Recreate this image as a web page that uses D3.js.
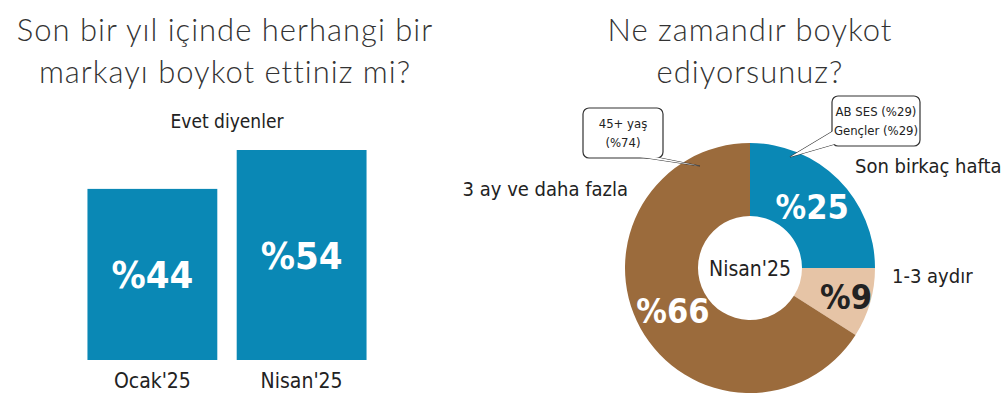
<!DOCTYPE html>
<html><head><meta charset="utf-8">
<script src="https://cdn.jsdelivr.net/npm/d3@7"></script>
<style>body{margin:0;background:#fff}svg{font-family:"DejaVu Sans Condensed","DejaVu Sans",sans-serif}</style>
</head><body><svg width="1004" height="411"></svg>
<script>
// bar data
var barCats = ["Ocak'25", "Nisan'25"];
var barVals = [44, 54];
// donut data
var sliceNames = ["Son birkaç hafta", "1-3 aydır", "3 ay ve daha fazla"];
var sliceVals = [25, 9, 66];
var sliceColors = ["#0a88b5", "#e6c4a6", "#9b6b3c"];

var svg = d3.select("svg");
var title = "Lato, 'Open Sans', sans-serif";

// titles
svg.append("text").attr("x", 225).attr("y", 41).attr("text-anchor", "middle").attr("font-family", title)
  .attr("font-weight", 300).attr("font-size", 31).attr("fill", "#333").attr("letter-spacing", 1).text("Son bir yıl içinde herhangi bir");
svg.append("text").attr("x", 225).attr("y", 83).attr("text-anchor", "middle").attr("font-family", title)
  .attr("font-weight", 300).attr("font-size", 31).attr("fill", "#333").attr("letter-spacing", 1).text("markayı boykot ettiniz mi?");
svg.append("text").attr("x", 750).attr("y", 41).attr("text-anchor", "middle").attr("font-family", title)
  .attr("font-weight", 300).attr("font-size", 31).attr("fill", "#333").attr("letter-spacing", 1).text("Ne zamandır boykot");
svg.append("text").attr("x", 750).attr("y", 83).attr("text-anchor", "middle").attr("font-family", title)
  .attr("font-weight", 300).attr("font-size", 31).attr("fill", "#333").attr("letter-spacing", 1).text("ediyorsunuz?");

svg.append("text").attr("x", 227).attr("y", 128).attr("text-anchor", "middle").attr("font-size", 19)
  .attr("fill", "#222").text("Evet diyenler");

// bars
var x = d3.scaleBand().domain(barCats).range([80, 374]).paddingInner(0.13).paddingOuter(0.05);
var y = d3.scaleLinear().domain([0, 54]).range([360, 150]);
var bars = svg.append("g").selectAll("g").data(barCats).enter().append("g");
bars.append("rect").attr("x", function(d){return x(d);}).attr("width", x.bandwidth())
  .attr("y", function(d,i){return y(barVals[i]);}).attr("height", function(d,i){return 360 - y(barVals[i]);})
  .attr("fill", "#0a88b5");
bars.append("text").attr("x", function(d){return x(d) + x.bandwidth()/2;})
  .attr("y", function(d,i){return (y(barVals[i]) + 360)/2 + 14;})
  .attr("text-anchor", "middle").attr("fill", "#fff").attr("font-size", 38).attr("font-weight", "bold")
  .text(function(d,i){return "%" + barVals[i];});
bars.append("text").attr("x", function(d){return x(d) + x.bandwidth()/2;}).attr("y", 388)
  .attr("text-anchor", "middle").attr("font-size", 21).attr("fill", "#222").text(function(d){return d;});

// donut
var cx = 750, cy = 268, rO = 125, rI = 52;
var pie = d3.pie().sort(null)(sliceVals);
var arc = d3.arc().innerRadius(rI).outerRadius(rO);
var g = svg.append("g").attr("transform", "translate(" + cx + "," + cy + ")");
g.selectAll("path").data(pie).enter().append("path").attr("d", arc)
  .attr("fill", function(d,i){return sliceColors[i];});
var lab = d3.arc().innerRadius(88).outerRadius(88);
g.selectAll("text.v").data(pie).enter().append("text")
  .attr("transform", function(d,i){var c = lab.centroid(d); if(i==1) c = d3.arc().innerRadius(100).outerRadius(100).centroid(d); return "translate(" + c + ")";})
  .attr("dy", 13).attr("text-anchor", "middle").attr("font-weight", "bold").attr("font-size", 34)
  .attr("fill", function(d,i){return i==1 ? "#222" : "#fff";}).text(function(d){return "%" + d.data;});
g.append("text").attr("text-anchor", "middle").attr("dy", 8).attr("font-size", 21).attr("fill", "#222").text("Nisan'25");

// slice names
var namePos = [[855, 173, "start"], [892, 283, "start"], [628, 196, "end"]];
sliceNames.forEach(function(n, i){
  svg.append("text").attr("x", namePos[i][0]).attr("y", namePos[i][1]).attr("text-anchor", namePos[i][2])
    .attr("font-size", 20).attr("fill", "#222").text(n);
});

// callouts
function callout(bx, by, w, h, tip, base, lines){
  svg.append("path").attr("d", "M" + base[0] + "," + base[1] + "L" + tip[0] + "," + tip[1] + "L" + base[2] + "," + base[3])
    .attr("fill", "#fff").attr("stroke", "#333").attr("stroke-width", 1.2);
  svg.append("rect").attr("x", bx).attr("y", by).attr("width", w).attr("height", h).attr("rx", 6)
    .attr("fill", "#fff").attr("stroke", "#333").attr("stroke-width", 1.2);
  svg.append("path").attr("d", "M" + base[0] + "," + base[1] + "L" + tip[0] + "," + tip[1] + "L" + base[2] + "," + base[3])
    .attr("fill", "#fff").attr("stroke", "none").attr("transform", "translate(0,0)");
  lines.forEach(function(t, k){
    svg.append("text").attr("x", bx + w/2).attr("y", by + 20 + k*19).attr("text-anchor", "middle")
      .attr("font-size", 13).attr("fill", "#222").text(t);
  });
}
callout(583, 108, 80, 50, [700, 166], [640, 157, 655, 157], ["45+ yaş", "(%74)"]);
callout(832, 96, 88, 50, [790, 157], [835, 130, 835, 144], ["AB SES (%29)", "Gençler (%29)"]);
</script></body></html>
